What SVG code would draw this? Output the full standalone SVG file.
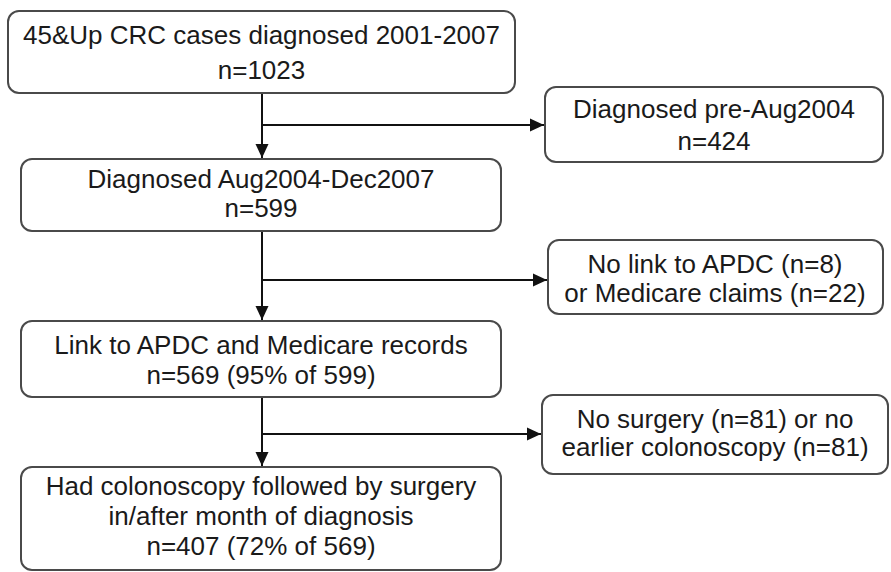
<svg xmlns="http://www.w3.org/2000/svg" width="891" height="572" viewBox="0 0 891 572">
<defs>
<style>
.box{fill:#fff;stroke:#4a4a4a;stroke-width:2}
.t{font-family:"Liberation Sans",Arial,sans-serif;font-size:26px;fill:#1a1a1a;text-anchor:middle}
.c{fill:none;stroke:#111;stroke-width:2}
</style>
<marker id="ah" markerUnits="userSpaceOnUse" markerWidth="14" markerHeight="14" viewBox="0 0 14 14" refX="14" refY="7" orient="auto">
<path d="M0,0.5 L14,7 L0,13.5 Z" fill="#111"/>
</marker>
</defs>
<rect width="891" height="572" fill="#fff"/>
<g id="connectors">
<path class="c" d="M262,93 V158" marker-end="url(#ah)"/>
<path class="c" d="M262,125 H544" marker-end="url(#ah)"/>
<path class="c" d="M262,231 V320" marker-end="url(#ah)"/>
<path class="c" d="M262,280 H547" marker-end="url(#ah)"/>
<path class="c" d="M262,397 V466" marker-end="url(#ah)"/>
<path class="c" d="M262,434 H541" marker-end="url(#ah)"/>
</g>
<g id="n1">
<rect class="box" x="8" y="11" width="507" height="82" rx="11"/>
<text class="t" x="261.5" y="44">45&amp;Up CRC cases diagnosed 2001-2007</text>
<text class="t" x="261.5" y="79">n=1023</text>
</g>
<g id="n2">
<rect class="box" x="21" y="159" width="480" height="72" rx="11"/>
<text class="t" x="261" y="188">Diagnosed Aug2004-Dec2007</text>
<text class="t" x="261" y="217">n=599</text>
</g>
<g id="n3">
<rect class="box" x="21" y="321" width="480" height="76" rx="11"/>
<text class="t" x="261" y="354">Link to APDC and Medicare records</text>
<text class="t" x="261" y="384">n=569 (95% of 599)</text>
</g>
<g id="n4">
<rect class="box" x="21" y="467" width="480" height="103" rx="11"/>
<text class="t" x="261" y="495">Had colonoscopy followed by surgery</text>
<text class="t" x="261" y="525">in/after month of diagnosis</text>
<text class="t" x="261" y="555">n=407 (72% of 569)</text>
</g>
<g id="r1">
<rect class="box" x="545" y="87" width="338" height="75" rx="11"/>
<text class="t" x="714" y="118">Diagnosed pre-Aug2004</text>
<text class="t" x="714" y="150">n=424</text>
</g>
<g id="r2">
<rect class="box" x="548" y="240" width="335" height="74" rx="11"/>
<text class="t" x="715" y="273">No link to APDC (n=8)</text>
<text class="t" x="715" y="302">or Medicare claims (n=22)</text>
</g>
<g id="r3">
<rect class="box" x="542" y="395" width="346" height="79" rx="11"/>
<text class="t" x="715" y="428">No surgery (n=81) or no</text>
<text class="t" x="715" y="456">earlier colonoscopy (n=81)</text>
</g>
</svg>
